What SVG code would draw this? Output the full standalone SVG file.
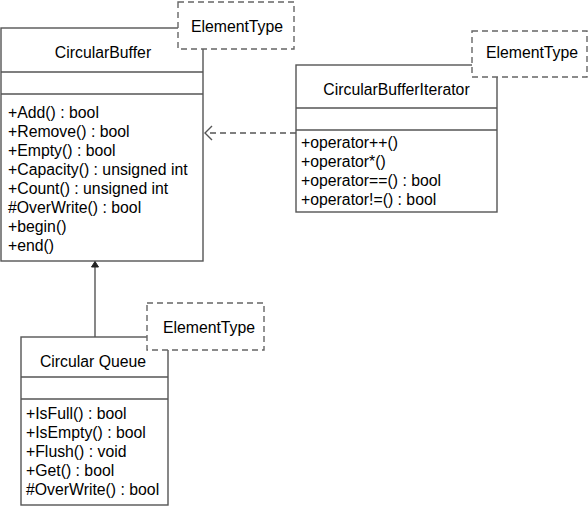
<svg xmlns="http://www.w3.org/2000/svg" width="588" height="506" viewBox="0 0 588 506">
<style>
.box{fill:#fff;stroke:#555;stroke-width:1.4}
.sep{stroke:#555;stroke-width:1.4;fill:none}
.tmpl{fill:#fff;stroke:#666;stroke-width:1.4;stroke-dasharray:6 4}
.t{font-family:"Liberation Sans",Arial,sans-serif;font-size:15.8px;fill:#000}
.c{text-anchor:middle}
.conn{stroke:#555;stroke-width:1.4;fill:none}
</style>
<rect width="588" height="506" fill="#fff"/>
<g id="CircularBuffer">
<rect class="box" x="1" y="28" width="202" height="233"/>
<line class="sep" x1="1" y1="72" x2="203" y2="72"/>
<line class="sep" x1="1" y1="94" x2="203" y2="94"/>
<text class="t c" x="103" y="58">CircularBuffer</text>
<text class="t" x="8" y="118">+Add() : bool</text>
<text class="t" x="8" y="137">+Remove() : bool</text>
<text class="t" x="8" y="156">+Empty() : bool</text>
<text class="t" x="8" y="175">+Capacity() : unsigned int</text>
<text class="t" x="8" y="194">+Count() : unsigned int</text>
<text class="t" x="8" y="213">#OverWrite() : bool</text>
<text class="t" x="8" y="232">+begin()</text>
<text class="t" x="8" y="251">+end()</text>
<rect class="tmpl" x="178" y="2" width="116" height="47"/>
<text class="t c" x="237" y="32">ElementType</text>
</g>
<g id="CircularBufferIterator">
<rect class="box" x="296" y="65" width="201" height="147"/>
<line class="sep" x1="296" y1="108" x2="497" y2="108"/>
<line class="sep" x1="296" y1="130" x2="497" y2="130"/>
<text class="t c" x="396.5" y="95">CircularBufferIterator</text>
<text class="t" x="301" y="148">+operator++()</text>
<text class="t" x="301" y="167">+operator*()</text>
<text class="t" x="301" y="186">+operator==() : bool</text>
<text class="t" x="301" y="205">+operator!=() : bool</text>
<rect class="tmpl" x="472" y="31" width="115" height="46"/>
<text class="t c" x="532" y="58">ElementType</text>
</g>
<g id="CircularQueue">
<rect class="box" x="21" y="337" width="147" height="168"/>
<line class="sep" x1="21" y1="377" x2="168" y2="377"/>
<line class="sep" x1="21" y1="399" x2="168" y2="399"/>
<text class="t c" x="93" y="367">Circular Queue</text>
<text class="t" x="26" y="419">+IsFull() : bool</text>
<text class="t" x="26" y="438">+IsEmpty() : bool</text>
<text class="t" x="26" y="457">+Flush() : void</text>
<text class="t" x="26" y="476">+Get() : bool</text>
<text class="t" x="26" y="495">#OverWrite() : bool</text>
<rect class="tmpl" x="147" y="303" width="117" height="47"/>
<text class="t c" x="209" y="333">ElementType</text>
</g>
<g id="connectors">
<path class="conn" d="M296,133 L205,133" stroke-dasharray="6 4"/>
<path class="conn" d="M212,126 L205,133 L212,140" stroke-width="1.3"/>
<line class="conn" x1="95" y1="337" x2="95" y2="266"/>
<path d="M91.5,267 L98.5,267 L95,261.5 Z" fill="#222" stroke="#222" stroke-width="1"/>
</g>
</svg>
